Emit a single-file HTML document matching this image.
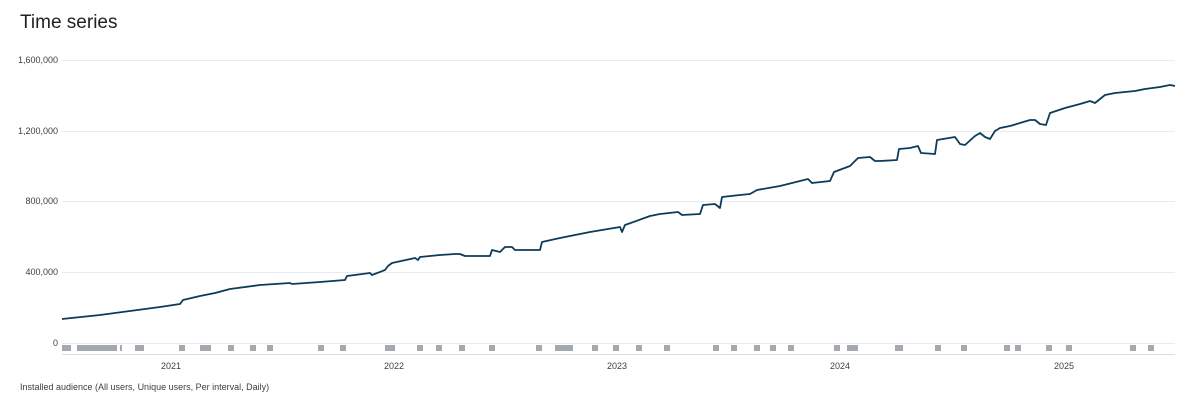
<!DOCTYPE html>
<html><head><style>
body{margin:0;background:#fff;font-family:"Liberation Sans",sans-serif;}
</style></head><body>
<svg width="1200" height="409" xmlns="http://www.w3.org/2000/svg" font-family="Liberation Sans, sans-serif">
<text x="20" y="28" font-size="19" fill="#202124">Time series</text>
<g stroke="#e8eaed" stroke-width="1">
<line x1="62" y1="60.5" x2="1175" y2="60.5"/>
<line x1="62" y1="131.5" x2="1175" y2="131.5"/>
<line x1="62" y1="201.5" x2="1175" y2="201.5"/>
<line x1="62" y1="272.5" x2="1175" y2="272.5"/>
<line x1="62" y1="343.5" x2="1175" y2="343.5"/>
</g>
<line x1="62" y1="354.5" x2="1175" y2="354.5" stroke="#dadce0"/>
<g font-size="9" fill="#3c4043" text-anchor="end">
<text x="58" y="63">1,600,000</text>
<text x="58" y="134">1,200,000</text>
<text x="58" y="204">800,000</text>
<text x="58" y="275">400,000</text>
<text x="58" y="346">0</text>
</g>
<g font-size="9" fill="#3c4043" text-anchor="middle">
<text x="171" y="369">2021</text><text x="394" y="369">2022</text><text x="617" y="369">2023</text><text x="840" y="369">2024</text><text x="1064" y="369">2025</text>
</g>
<g fill="#9aa0a6" opacity="0.9">
<rect x="62" y="345" width="9" height="6"/><rect x="77" y="345" width="40" height="6"/><rect x="120" y="345" width="2" height="6"/>
<rect x="135" y="345" width="9" height="6"/><rect x="179" y="345" width="6" height="6"/><rect x="200" y="345" width="11" height="6"/>
<rect x="228" y="345" width="6" height="6"/><rect x="250" y="345" width="6" height="6"/><rect x="267" y="345" width="6" height="6"/>
<rect x="318" y="345" width="6" height="6"/><rect x="340" y="345" width="6" height="6"/><rect x="385" y="345" width="10" height="6"/>
<rect x="417" y="345" width="6" height="6"/><rect x="436" y="345" width="6" height="6"/><rect x="459" y="345" width="6" height="6"/>
<rect x="489" y="345" width="6" height="6"/><rect x="536" y="345" width="6" height="6"/><rect x="555" y="345" width="18" height="6"/>
<rect x="592" y="345" width="6" height="6"/><rect x="613" y="345" width="6" height="6"/><rect x="636" y="345" width="6" height="6"/>
<rect x="664" y="345" width="6" height="6"/><rect x="713" y="345" width="6" height="6"/><rect x="731" y="345" width="6" height="6"/>
<rect x="754" y="345" width="6" height="6"/><rect x="770" y="345" width="6" height="6"/><rect x="788" y="345" width="6" height="6"/>
<rect x="834" y="345" width="6" height="6"/><rect x="847" y="345" width="11" height="6"/><rect x="895" y="345" width="8" height="6"/>
<rect x="935" y="345" width="6" height="6"/><rect x="961" y="345" width="6" height="6"/><rect x="1004" y="345" width="6" height="6"/>
<rect x="1015" y="345" width="6" height="6"/><rect x="1046" y="345" width="6" height="6"/><rect x="1066" y="345" width="6" height="6"/>
<rect x="1130" y="345" width="6" height="6"/><rect x="1148" y="345" width="6" height="6"/>
</g>
<polyline fill="none" stroke="#0d3b5a" stroke-width="1.8" stroke-linejoin="round" points="
62,319 100,315 130,311 160,307 180,304 183,300 200,296 215,293 230,289 260,285 290,283 292,284 320,282 345,280 347,276 370,273 372,275 385,270 388,266 392,263 415,258 418,260 420,257 440,255 455,254 460,254 465,256 490,256 492,250 500,252 505,247 512,247 515,250 540,250 542,242 560,238 590,232 620,227 622,232 625,225 650,216 660,214 678,212 682,215 700,214 703,205 715,204 720,208 722,197 740,195 750,194 757,190 780,186 800,181 808,179 812,183 830,181 834,172 850,166 858,158 870,157 875,161 880,161 897,160 899,149 910,148 918,146 921,153 935,154 937,140 955,137 960,144 965,145 975,136 980,133 985,137 990,139 995,131 1000,128 1010,126 1030,120 1035,120 1040,124 1046,125 1050,113 1065,108 1080,104 1090,101 1095,103 1105,95 1115,93 1125,92 1135,91 1145,89 1160,87 1165,86 1170,85 1175,86"/>
<text x="20" y="390" font-size="9" fill="#3c4043">Installed audience (All users, Unique users, Per interval, Daily)</text>
</svg>
</body></html>
